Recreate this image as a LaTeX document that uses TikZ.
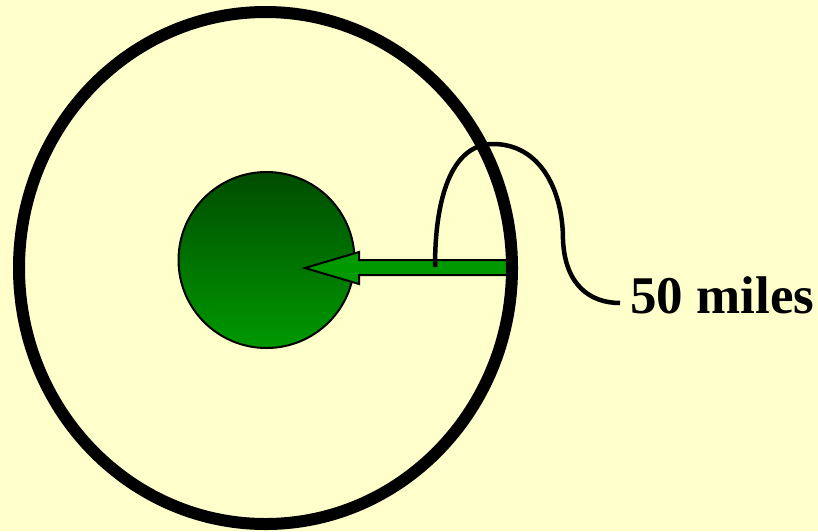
\documentclass[tikz,border=0pt]{standalone}
\usepackage{fontspec}
\setmainfont{Liberation Serif}
\usetikzlibrary{positioning}
\definecolor{Cream}{HTML}{FFFFCC}
\definecolor{Leaf}{HTML}{009900}
\definecolor{Pine}{HTML}{004C00}

\begin{document}
\begin{tikzpicture}[x=1pt,y=-1pt,
  ring/.style={draw=black,line width=12pt},
  core/.style={circle,draw=black,line width=2pt,minimum size=176pt,inner sep=0pt,
    top color=Pine,bottom color=Leaf},
  pointer/.style={draw=black,line width=2pt,fill=Leaf,line join=miter},
  lead/.style={draw=black,line width=4.5pt},
  tag/.style={font=\fontsize{53}{58}\selectfont\bfseries,inner sep=0pt,anchor=base west}]
\fill[Cream](0,0)rectangle(818,531);
\useasboundingbox(0,0)rectangle(818,531);
\node[core](earth)at(266.5,260){};
\coordinate(tip)at(305,268);
\draw[pointer](tip)--++(54,-16)--++(0,8)--(513,260)--(513,275)--(359,275)--++(0,9)--cycle;
\draw[ring](265.5,268)ellipse[x radius=246.5,y radius=256];
\node[tag](label)at(630,313){50 miles};
\coordinate(foot)at(435,267);
\coordinate(tail)at(620,303);
\draw[lead](foot)..controls(435,190)and(455,144)..(493,144)
  ..controls(540,144)and(563,190)..(563,240)
  ..controls(565,285)and(590,303)..(tail);
\end{tikzpicture}
\end{document}
